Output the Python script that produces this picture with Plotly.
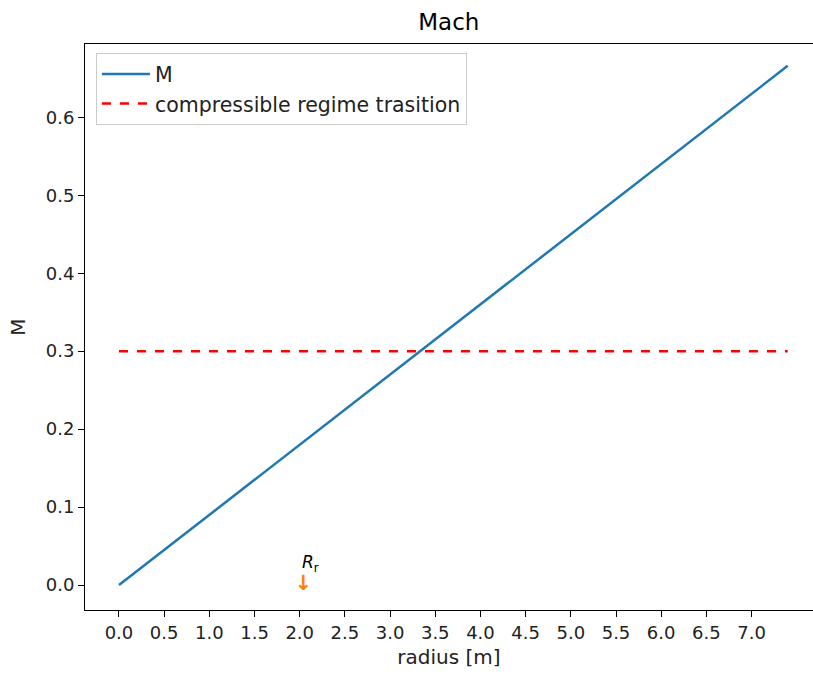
import plotly.graph_objects as go

# Mach number along the radius
radius = [0.0, 7.4]
mach = [0.0, 0.666]

# compressible regime threshold
threshold_r = [0.0, 7.4]
threshold_m = [0.3, 0.3]

# rotor radius marker
rotor_r = [2.04]
rotor_m = [0.0]

x_ticks = [0.0, 0.5, 1.0, 1.5, 2.0, 2.5, 3.0, 3.5, 4.0, 4.5, 5.0, 5.5, 6.0, 6.5, 7.0]
y_ticks = [0.0, 0.1, 0.2, 0.3, 0.4, 0.5, 0.6]

FONT = "DejaVu Sans, sans-serif"

fig = go.Figure()
fig.add_trace(go.Scatter(x=radius, y=mach, mode="lines", name="M",
                         line=dict(color="#1f77b4", width=2.5)))
fig.add_trace(go.Scatter(x=threshold_r, y=threshold_m, mode="lines",
                         name="compressible regime trasition",
                         line=dict(color="red", width=2.5, dash="dash")))
fig.add_trace(go.Scatter(x=rotor_r, y=rotor_m, mode="text", text=["<b>↓</b>"],
                         textfont=dict(color="#ff7f0e", size=21, family=FONT),
                         textposition="middle center", showlegend=False))
fig.add_annotation(x=rotor_r[0], y=rotor_m[0], text="<i>R</i><sub>r</sub>",
                   showarrow=False, xanchor="left", yanchor="bottom",
                   xshift=-3, yshift=8,
                   font=dict(family=FONT, size=17, color="black"))

fig.update_layout(
    width=813, height=675,
    margin=dict(l=85, r=0, t=44, b=65),
    paper_bgcolor="white", plot_bgcolor="white",
    font=dict(family=FONT, size=18, color="#222"),
    title=dict(text="Mach", x=0.552, xanchor="center", y=0.967, yanchor="middle",
               font=dict(size=23, color="black")),
    showlegend=True,
    legend=dict(x=0.015, y=0.984, xanchor="left", yanchor="top",
                bgcolor="rgba(255,255,255,0.8)", bordercolor="#cccccc", borderwidth=1,
                font=dict(size=20.5, color="#222"), itemwidth=48),
)
fig.update_xaxes(range=[-0.376, 7.68], tickvals=x_ticks, tickformat=".1f",
                 ticks="outside", ticklen=6, tickcolor="black",
                 showgrid=False, zeroline=False, showline=True, linecolor="black",
                 mirror=True, title=dict(text="radius [m]", standoff=8,
                                         font=dict(size=20)),
                 tickfont=dict(size=18))
fig.update_yaxes(range=[-0.032, 0.694], tickvals=y_ticks, tickformat=".1f",
                 ticks="outside", ticklen=6, tickcolor="black",
                 showgrid=False, zeroline=False, showline=True, linecolor="black",
                 mirror=True, title=dict(text="M", standoff=14, font=dict(size=20)),
                 tickfont=dict(size=18))

fig.write_html("out.html")
